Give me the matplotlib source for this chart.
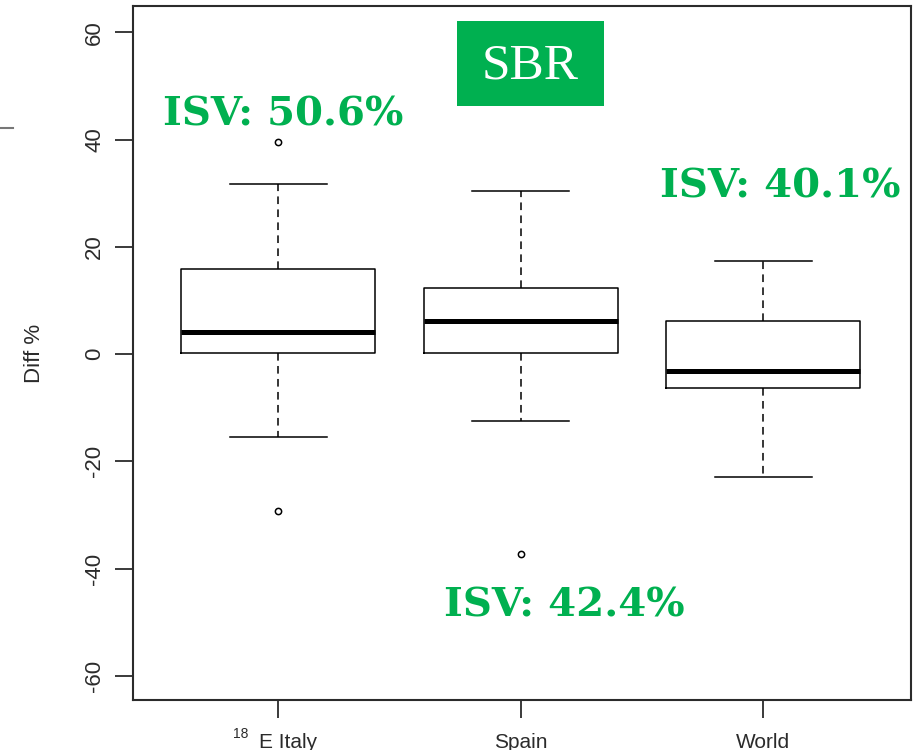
import matplotlib.pyplot as plt
from matplotlib.patches import Rectangle
from matplotlib.lines import Line2D

# box statistics (Diff %)
regions = ["E Italy", "Spain", "World"]
whisker_low = [-15.4, -12.4, -23.0]
q1 = [0.25, 0.25, -6.4]
median = [4.2, 6.2, -3.2]
q3 = [15.8, 12.4, 6.15]
whisker_high = [31.8, 30.4, 17.3]
outliers = [[39.5, -29.2], [-37.3], []]

isv_labels = ["ISV: 50.6%", "ISV: 42.4%", "ISV: 40.1%"]
isv_pos = [(1.02, 44.6), (2.18, -46.8), (3.07, 31.3)]

GREEN = "#00b050"
INK = "#2b2b2b"

stats = []
for i, name in enumerate(regions):
    stats.append(dict(label=name, whislo=whisker_low[i], q1=q1[i], med=median[i],
                      q3=q3[i], whishi=whisker_high[i], fliers=outliers[i]))

fig = plt.figure(figsize=(9.13, 7.5), dpi=100)
ax = fig.add_axes([133 / 913, 50 / 750, 778 / 913, 694 / 750])

ax.bxp(stats, positions=[1, 2, 3], widths=0.8, showfliers=True,
       boxprops=dict(color="black", linewidth=1.1),
       medianprops=dict(color="black", linewidth=3.6, solid_capstyle="butt"),
       whiskerprops=dict(color="black", linewidth=1.1, linestyle=(0, (5, 3.5))),
       capprops=dict(color="black", linewidth=1.1),
       capwidths=0.4,
       flierprops=dict(marker="o", markersize=4.5, markerfacecolor="white",
                       markeredgecolor="black", markeredgewidth=1.1))

ax.set_xlim(0.4, 3.61)
ax.set_ylim(-64.5, 64.9)
ax.set_yticks([-60, -40, -20, 0, 20, 40, 60])
ax.set_yticklabels(["-60", "-40", "-20", "0", "20", "40", "60"], rotation=90,
                   va="center", fontsize=16, color=INK, family="Liberation Sans")
ax.set_xticks([1, 2, 3])
ax.set_xticklabels([])
ax.tick_params(axis="both", length=13, width=1.3, color=INK, pad=7)
for sp in ax.spines.values():
    sp.set_linewidth(1.5)
    sp.set_color(INK)

ax.set_ylabel("Diff %", fontsize=16, color=INK, family="Liberation Sans", labelpad=28)

# category names right at the bottom edge
for i, name in enumerate(regions):
    ax.text(i + 1 + (0.04 if i == 0 else 0), -70.6, name, ha="center", va="top",
            fontsize=15, color=INK, family="Liberation Sans", clip_on=False)
ax.text(0.845, -69.6, "18", ha="center", va="top", fontsize=10, color=INK,
        family="Liberation Sans", clip_on=False)

# SBR badge
ax.add_patch(Rectangle((1.737, 46.2), 0.607, 15.9, facecolor=GREEN, edgecolor="none", zorder=3))
ax.text(2.04, 53.6, "SBR", ha="center", va="center", fontsize=37, color="white",
        family="Liberation Serif", zorder=4)

for lab, (x, y) in zip(isv_labels, isv_pos):
    ax.text(x, y, lab, ha="center", va="center", fontsize=29, color=GREEN,
            family="DejaVu Serif", fontweight="heavy")

# little leftover rule at the top-left edge
fig.add_artist(Line2D([0, 13 / 913], [1 - 128 / 750, 1 - 128 / 750], color="#777777", linewidth=1.5))

fig.savefig("out.png", dpi=100)
